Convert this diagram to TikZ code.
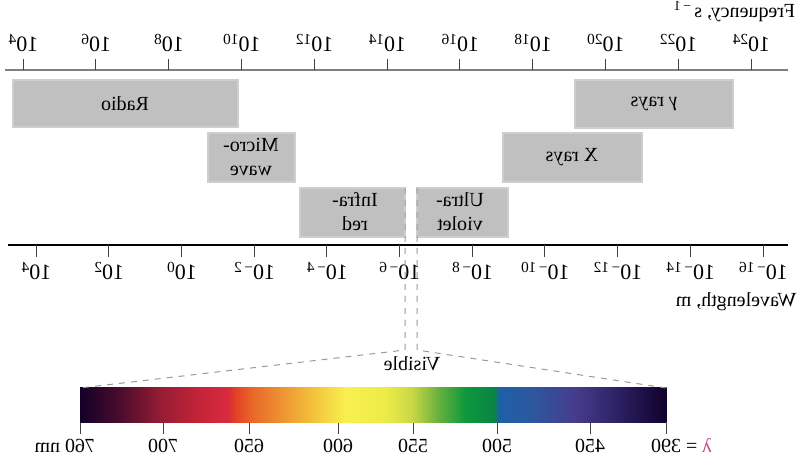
\documentclass[tikz,border=0pt]{standalone}
\usepackage{fontspec}
\setmainfont{Liberation Serif}
\usetikzlibrary{positioning}

\definecolor{bandgrau}{RGB}{192,192,192}
\definecolor{randgrau}{RGB}{206,206,206}
\definecolor{lambdarosa}{RGB}{200,70,135}
\definecolor{sa}{RGB}{20,0,40}
\definecolor{sb}{RGB}{75,12,45}
\definecolor{sc}{RGB}{150,28,52}
\definecolor{sd}{RGB}{198,36,56}
\definecolor{se}{RGB}{218,42,62}
\definecolor{sf}{RGB}{226,62,38}
\definecolor{sg}{RGB}{232,100,40}
\definecolor{sh}{RGB}{238,145,50}
\definecolor{si}{RGB}{243,190,58}
\definecolor{sj}{RGB}{248,240,80}
\definecolor{sk}{RGB}{236,236,72}
\definecolor{sl}{RGB}{200,216,70}
\definecolor{sm}{RGB}{115,180,62}
\definecolor{sn}{RGB}{12,152,60}
\definecolor{so}{RGB}{10,132,70}
\definecolor{sp}{RGB}{30,96,168}
\definecolor{sq}{RGB}{44,88,160}
\definecolor{sr}{RGB}{70,60,140}
\definecolor{ss}{RGB}{42,32,96}
\definecolor{st}{RGB}{16,0,42}

\begin{document}
\begin{tikzpicture}[
      x=0.5pt, y=-0.5pt,
      font=\fontsize{10}{12}\selectfont,
      every node/.style={xscale=-1, inner sep=1pt},
      zahl/.style={anchor=base, font=\fontsize{11}{13}\selectfont},
      feld/.style={fill=bandgrau, draw=randgrau, line width=1pt},
      achse/.style={line width=0.8pt},
      strich/.style={line width=0.5pt, black!75},
      leitlinie/.style={dashed, gray!80, line width=0.5pt}
    ]
      \useasboundingbox (0,0) rectangle (800,465);

      % Frequenzachse oben
      \draw[achse, gray, line width=1.1pt] (5,70) -- (788,70);
      \foreach \e [count=\i from 0] in {4,6,...,24} {
        \draw[strich] ({23+72.8*\i},59) -- ({23+72.8*\i},70);
        \node[zahl] (f\i) at ({23+72.8*\i},52) {10\textsuperscript{\e}};
      }
      \node[anchor=base] (freq) at (734,18) {Frequency, s\,\textsuperscript{−\,1}};

      % Wellenlaengenachse unten
      \draw[achse] (8,245) -- (788,245);
      \foreach \e [count=\i from 0] in {4,2,...,-16} {
        \pgfmathtruncatemacro\betrag{abs(\e)}
        \draw[strich] ({36+72.7*\i},245) -- ({36+72.7*\i},257);
        \node[zahl] (w\i) at ({36+72.7*\i},280)
          {10\textsuperscript{\ifnum\e<0 −\,\fi\betrag}};
      }
      \node[anchor=base] (wave) at (736,307) {Wavelength, m};

      % Baender
      \draw[feld] (13,80) rectangle (238,127);
      \node (radio) at (125,104) {Radio};
      \draw[feld] (208,133) rectangle (295,182);
      \node[align=center] (micro) at (251,157) {Micro-\\wave};
      \draw[feld] (300,188) rectangle (405,237);
      \node[align=center] (infra) at (355,212) {Infra-\\red};
      \draw[feld] (417,188) rectangle (508,237);
      \node[align=center] (ultra) at (460,212) {Ultra-\\violet};
      \draw[feld] (503,133) rectangle (642,182);
      \node (xray) at (572,157) {X rays};
      \draw[feld] (575,80) rectangle (733,128);
      \node (gamma) at (654,104) {\textit{γ} rays};

      % Spektrum
      \coordinate (spl) at (80,388);
      \coordinate (spr) at (666,388);
      \foreach \xa/\ca/\xb/\cb in {80/sa/120/sb, 120/sb/160/sc, 160/sc/200/sd,
          200/sd/228/se, 228/se/234/sf, 234/sf/250/sg, 250/sg/280/sh,
          280/sh/310/si, 310/si/345/sj, 345/sj/385/sk, 385/sk/412/sl,
          412/sl/435/sm, 435/sm/465/sn, 465/sn/494/so, 494/so/499/sp,
          499/sp/530/sq, 530/sq/575/sr, 575/sr/620/ss, 620/ss/666/st}
        \shade[left color=\ca, right color=\cb] (\xa,388) rectangle ({\xb+0.6},423);
      \foreach \x/\t [count=\i] in {80/760\rlap{ nm}, 163/700, 249/650, 338/600,
          413/550, 497/500, 590/450, 666/\llap{\textcolor{lambdarosa}{λ} = }390} {
        \draw[strich] (\x,423) -- (\x,434);
        \node[anchor=base] (nm\i) at (\x,453) {\t};
      }

      % sichtbarer Bereich
      \coordinate (vl) at (405,350);
      \coordinate (vr) at (417,350);
      \draw[leitlinie] (405,188) -- (vl) -- (spl);
      \draw[leitlinie] (417,188) -- (vr) -- (spr);
      \node[anchor=base] (visible) at (412,371) {Visible};
    \end{tikzpicture}
\end{document}
